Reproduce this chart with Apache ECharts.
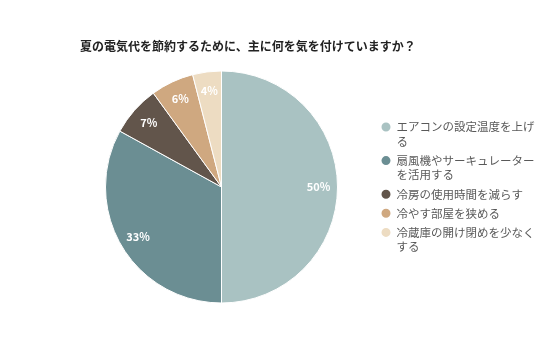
<!DOCTYPE html>
<html>
<head>
<meta charset="utf-8">
<script src="https://cdn.jsdelivr.net/npm/echarts@6/dist/echarts.min.js"></script>
<style>
html,body{margin:0;padding:0;background:#fff;}
#main{width:536px;height:357px;}
</style>
</head>
<body>
<div id="main"></div>
<script>
const titleText = '夏の電気代を節約するために、主に何を気を付けていますか？';
const categories = [
  'エアコンの設定温度を上げる',
  '扇風機やサーキュレーターを活用する',
  '冷房の使用時間を減らす',
  '冷やす部屋を狭める',
  '冷蔵庫の開け閉めを少なくする'
];
const values = [50, 33, 7, 6, 4];
const colors = ['#a9c2c2', '#6b8e93', '#62554b', '#cfa880', '#eddcc2'];

const font = '"Noto Sans CJK JP", "Noto Sans", sans-serif';
const pieData = categories.map((n, i) => ({ name: n, value: values[i], itemStyle: { color: colors[i] } }));
const labelData = categories.map((n, i) => ({ name: n, value: values[i] }));

const chart = echarts.init(document.getElementById('main'), null, { renderer: 'canvas' });
chart.setOption({
  animation: false,
  backgroundColor: '#fff',
  title: {
    text: titleText,
    left: 80, top: 39, padding: 0,
    textStyle: { fontFamily: font, fontSize: 12, fontWeight: 'bold', color: '#222', lineHeight: 14 }
  },
  legend: {
    orient: 'vertical',
    left: 379.5, top: 119.75, padding: 0,
    itemWidth: 11, itemHeight: 11, itemGap: 4.6,
    icon: 'circle',
    data: categories,
    formatter: function (name) {
      const lines = name.length > 12 ? [name.slice(0, 12), name.slice(12)] : [name];
      return lines.map(function (l) { return '{t|' + l + '}'; }).join('\n');
    },
    textStyle: {
      fontFamily: font, fontSize: 11.5, color: '#595959', lineHeight: 14.5, height: 14.5,
      rich: {
        t: {
          fontFamily: font, fontSize: 11.5, color: '#595959',
          lineHeight: 14.5, height: 14.5, backgroundColor: 'rgba(255,255,255,0)'
        }
      }
    }
  },
  series: [
    {
      type: 'pie',
      center: [221.5, 187],
      radius: [0, 116],
      startAngle: 90,
      clockwise: true,
      silent: true,
      label: { show: false },
      labelLine: { show: false },
      itemStyle: { borderColor: '#fff', borderWidth: 1 },
      data: pieData
    },
    {
      type: 'pie',
      center: [221.5, 187],
      radius: [72, 116],
      startAngle: 90,
      clockwise: true,
      silent: true,
      itemStyle: { color: 'rgba(0,0,0,0)', borderWidth: 0 },
      label: {
        show: true, position: 'inside', formatter: '{c}%',
        fontFamily: font, fontSize: 11, fontWeight: 'bold', color: '#fff'
      },
      labelLine: { show: false },
      data: labelData
    }
  ]
});
</script>
</body>
</html>
